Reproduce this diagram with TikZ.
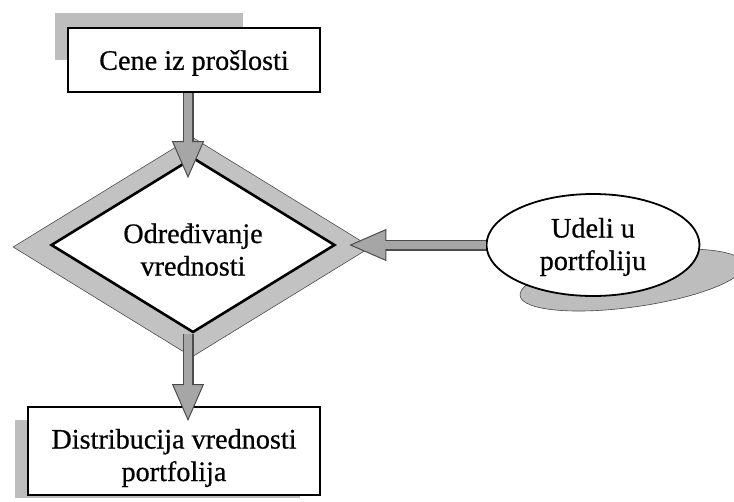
\documentclass[tikz,border=0pt]{standalone}
\usepackage{fontspec}
\setmainfont{Liberation Serif}[FakeBold=0.6]
\usetikzlibrary{shapes.geometric,arrows.meta,calc}

\definecolor{bandgray}{gray}{0.76}
\definecolor{shadowgray}{gray}{0.74}
\definecolor{arrowfill}{gray}{0.65}
\definecolor{arrowedge}{gray}{0.30}

\tikzset{
  labelfont/.style={font=\fontsize{28.2}{32.5}\selectfont},
  stepbox/.style={rectangle, draw=black, line width=2pt, fill=white,
    inner sep=0pt, align=center, labelfont},
  boxshadow/.style={fill=shadowgray},
  decisionband/.style={diamond, fill=bandgray, draw=gray!60!black,
    line width=0.6pt, inner sep=0pt},
  decision/.style={diamond, draw=black, line width=2.6pt, fill=white,
    inner sep=0pt, shape aspect=1.6, align=center, labelfont},
  source/.style={ellipse, draw=black, line width=1.8pt, fill=white,
    inner sep=0pt, align=center, labelfont},
  sourceshadow/.style={ellipse, fill=shadowgray, draw=gray!55!black,
    line width=0.6pt, inner sep=0pt},
  blockarrow/.style={draw=arrowedge, line width=11pt,
    -{Triangle[width=32pt,length=37pt,fill=arrowfill,line width=1pt]},
    postaction={draw=arrowfill, line width=8.6pt, shorten >=31pt, -}},
}

\begin{document}
\begin{tikzpicture}[x=1pt,y=-1pt]
  \useasboundingbox (0,0) rectangle (734,501);

  % drop shadows of the two boxes
  \fill[boxshadow] (55,13) rectangle (243,60);
  \fill[boxshadow] (15,420) rectangle (300,498);

  % input and output boxes
  \node[stepbox, minimum width=252pt, minimum height=64pt, text depth=0pt]
    (cene) at (194,60) {Cene iz prošlosti};
  \node[stepbox, minimum width=292pt, minimum height=88pt,
        text height=66pt, text depth=6pt]
    (distr) at (174,451) {Distribucija vrednosti\\portfolija};

  % decision: grey band with the inner diamond on top
  \node[decisionband, minimum width=358pt, minimum height=220pt]
    (band) at (192,247) {};
  \node[decision, minimum width=284pt, minimum height=175pt,
        text height=61pt, text depth=0pt]
    (odr) at (193,245) {Određivanje\\vrednosti};

  % side input with its slanted shadow
  \node[sourceshadow, minimum width=226pt, minimum height=54pt, rotate=8]
    (udelishadow) at (632,280) {};
  \node[source, minimum width=213pt, minimum height=102pt,
        text height=56pt, text depth=6pt]
    (udeli) at (593,245) {Udeli u\\portfoliju};

  % block arrows
  \draw[blockarrow] ($(cene.south)+(-6,0)$) -- ($(odr.north)+(-5,22)$);
  \draw[blockarrow] (udeli.west) -- ($(odr.east)+(13,0)$);
  \draw[blockarrow] ($(odr.south)+(-5,0)$) -- ($(odr.south |- distr.north)+(-5,15)$);
\end{tikzpicture}
\end{document}
